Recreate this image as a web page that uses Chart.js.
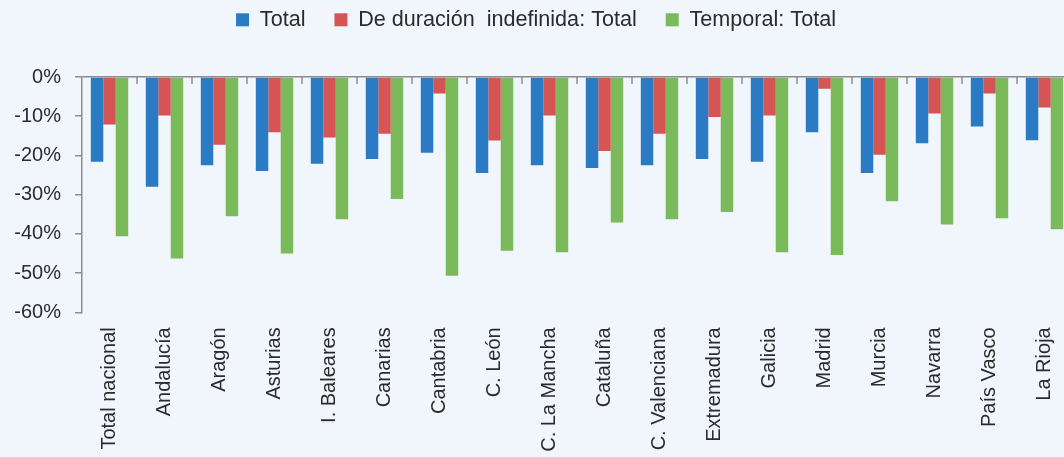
<!DOCTYPE html>
<html>
<head>
<meta charset="utf-8">
<script src="https://cdn.jsdelivr.net/npm/chart.js@4/dist/chart.umd.min.js"></script>
<style>
    html, body { margin: 0; padding: 0; background: #f1f6fc; overflow: hidden; }
    #wrap { width: 1076px; height: 457px; }
</style>
</head>
<body>
<div id="wrap"><canvas id="chart" width="1076" height="457"></canvas></div>
<script>
const regiones = ["Total nacional", "Andalucía", "Aragón", "Asturias", "I. Baleares", "Canarias", "Cantabria", "C. León", "C. La Mancha", "Cataluña", "C. Valenciana", "Extremadura", "Galicia", "Madrid", "Murcia", "Navarra", "País Vasco", "La Rioja"];

const total       = [-21.6, -28.0, -22.5, -24.0, -22.1, -20.9, -19.3, -24.5, -22.5, -23.2, -22.5, -20.9, -21.6, -14.1, -24.5, -16.9, -12.6, -16.1];
const indefinida  = [-12.1, -9.8, -17.3, -14.1, -15.4, -14.5, -4.2, -16.2, -9.8, -18.9, -14.5, -10.2, -9.8, -3.0, -19.8, -9.3, -4.2, -7.8];
const temporal    = [-40.6, -46.3, -35.5, -45.0, -36.3, -31.1, -50.7, -44.3, -44.7, -37.1, -36.3, -34.4, -44.7, -45.4, -31.7, -37.6, -36.0, -38.8];

const yTicks = [0, -10, -20, -30, -40, -50, -60];

const axisGray = "#8c8c8c";
const textColor = "#2b2b2b";
const fontFamily = "Liberation Sans";

// petites marques sous la ligne du zéro, entre les catégories
const categoryTicks = {
    id: "categoryTicks",
    afterDatasetsDraw(chart) {
        const x = chart.scales.x;
        const y = chart.scales.y;
        const y0 = y.getPixelForValue(0);
        const ctx = chart.ctx;
        ctx.save();
        ctx.strokeStyle = axisGray;
        ctx.lineWidth = 1.5;
        for (let i = 0; i < regiones.length; i++) {
            const xb = (x.getPixelForValue(i) + x.getPixelForValue(i + 1)) / 2;
            ctx.beginPath();
            ctx.moveTo(xb, y0);
            ctx.lineTo(xb, y0 + 7);
            ctx.stroke();
        }
        ctx.restore();
    }
};

// hauteur fixe pour la légende
const legendHeight = {
    id: "legendHeight",
    beforeInit(chart) {
        const fit = chart.legend.fit;
        chart.legend.fit = function () {
            fit.bind(chart.legend)();
            this.height = 97;
        };
    }
};

new Chart(document.getElementById("chart"), {
    type: "bar",
    data: {
        labels: regiones,
        datasets: [
            { label: "Total", data: total, backgroundColor: "#2a7bc3" },
            { label: "De duración  indefinida: Total", data: indefinida, backgroundColor: "#d45553" },
            { label: "Temporal: Total", data: temporal, backgroundColor: "#7aba5b" }
        ]
    },
    options: {
        responsive: false,
        animation: false,
        layout: { padding: { left: 0, right: 4, top: -20, bottom: 0 } },
        datasets: {
            bar: { categoryPercentage: 0.68, barPercentage: 1.0 }
        },
        plugins: {
            legend: {
                position: "top",
                labels: {
                    font: { family: fontFamily, size: 21.6 },
                    color: textColor,
                    boxWidth: 13,
                    boxHeight: 13,
                    padding: 29
                }
            },
            tooltip: { enabled: false }
        },
        scales: {
            x: {
                afterFit(scale) {
                    scale.height = 144.7;
                    scale.paddingLeft = 0;
                    scale.paddingRight = 0;
                },
                grid: { display: false, drawTicks: false },
                border: { display: false },
                ticks: {
                    autoSkip: false,
                    minRotation: 90,
                    maxRotation: 90,
                    padding: 15,
                    color: textColor,
                    font: { family: fontFamily, size: 20 }
                }
            },
            y: {
                min: -60,
                max: 0,
                afterBuildTicks(scale) {
                    scale.ticks = yTicks.map(v => ({ value: v }));
                },
                afterFit(scale) {
                    scale.width = 82;
                },
                grid: {
                    color: (c) => c.tick && c.tick.value === 0 ? axisGray : "rgba(0,0,0,0)",
                    lineWidth: 1.5,
                    tickColor: axisGray,
                    tickLength: 7
                },
                border: { display: true, color: axisGray, width: 1.5 },
                ticks: {
                    padding: 14,
                    color: textColor,
                    font: { family: fontFamily, size: 20 },
                    callback: (v) => v + "%"
                }
            }
        }
    },
    plugins: [categoryTicks, legendHeight]
});
</script>
</body>
</html>
